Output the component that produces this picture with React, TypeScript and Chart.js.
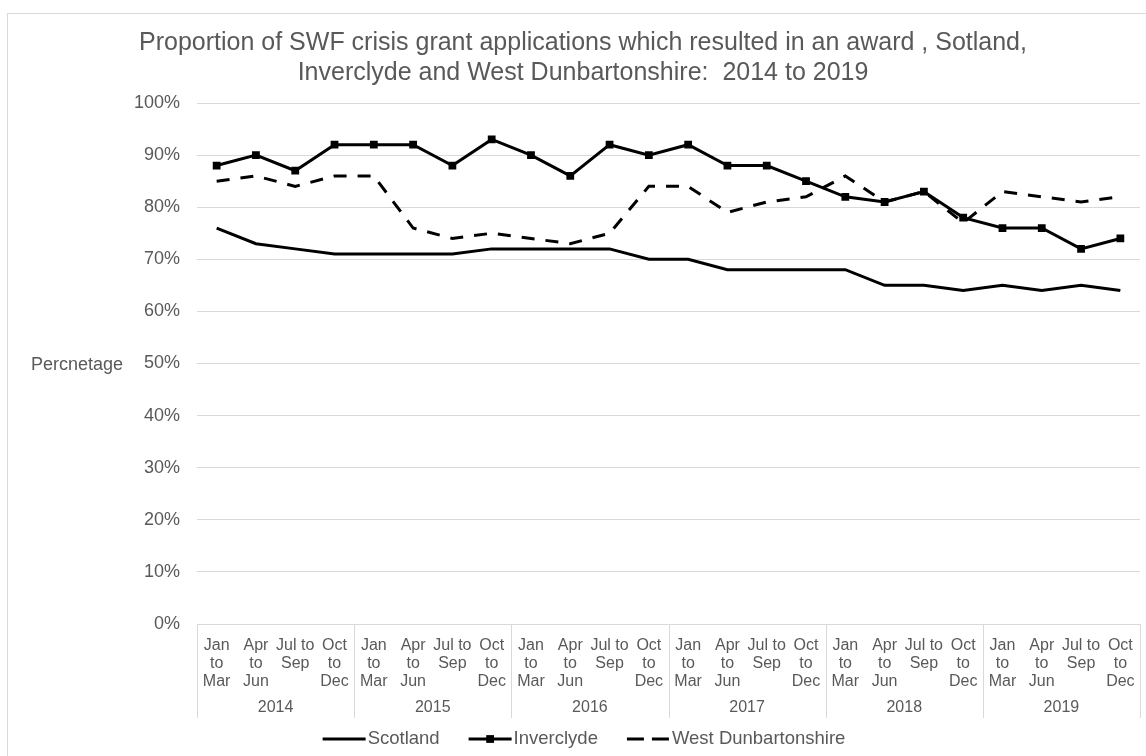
import React, { useEffect, useRef } from "react";
import { Chart, registerables } from "chart.js";

Chart.register(...registerables);

const titleLines = [
  "Proportion of SWF crisis grant applications which resulted in an award , Sotland,",
  "Inverclyde and West Dunbartonshire:  2014 to 2019",
];
const yAxisLabel = "Percnetage";
const years = ["2014", "2015", "2016", "2017", "2018", "2019"];
const quarters = [
  ["Jan", "to", "Mar"],
  ["Apr", "to", "Jun"],
  ["Jul to", "Sep"],
  ["Oct", "to", "Dec"],
];
const seriesNames = ["Scotland", "Inverclyde", "West Dunbartonshire"];
const scotland = [76, 73, 72, 71, 71, 71, 71, 72, 72, 72, 72, 70, 70, 68, 68, 68, 68, 65, 65, 64, 65, 64, 65, 64];
const inverclyde = [88, 90, 87, 92, 92, 92, 88, 93, 90, 86, 92, 90, 92, 88, 88, 85, 82, 81, 83, 78, 76, 76, 72, 74];
const westDunbartonshire = [85, 86, 84, 86, 86, 76, 74, 75, 74, 73, 75, 84, 84, 79, 81, 82, 86, 81, 83, 77, 83, 82, 81, 82];

const FONT = '"Liberation Sans", Arial, sans-serif';
const TEXT = "#595959";
const GRID = "#d9d9d9";
const W = 1146;
const H = 756;

const labels = years.flatMap(() => quarters);

const decorPlugin = {
  id: "decor",
  afterDraw(chart: any) {
    const ctx = chart.ctx;
    const area = chart.chartArea;
    const x = chart.scales.x;
    ctx.save();
    // outer border
    ctx.strokeStyle = GRID;
    ctx.lineWidth = 1;
    ctx.strokeRect(7.5, 13.5, W + 20, H + 20);

    // horizontal y-axis title
    ctx.fillStyle = TEXT;
    ctx.font = `18px ${FONT}`;
    ctx.textAlign = "left";
    ctx.textBaseline = "middle";
    ctx.fillText(yAxisLabel, 31, (area.top + area.bottom) / 2 + 2);

    // year group separators and labels
    const n = labels.length;
    const half = (x.getPixelForValue(1) - x.getPixelForValue(0)) / 2;
    const per = quarters.length;
    ctx.strokeStyle = GRID;
    ctx.lineWidth = 1;
    for (let g = 0; g <= years.length; g++) {
      const idx = Math.min(g * per, n - 1);
      const px = g * per >= n ? x.getPixelForValue(n - 1) + half : x.getPixelForValue(idx) - half;
      const xx = Math.round(px) + 0.5;
      ctx.beginPath();
      ctx.moveTo(xx, area.bottom);
      ctx.lineTo(xx, area.bottom + 94);
      ctx.stroke();
    }
    ctx.font = `16px ${FONT}`;
    ctx.textAlign = "center";
    ctx.fillStyle = TEXT;
    years.forEach((yr, g) => {
      const a = x.getPixelForValue(g * per);
      const b = x.getPixelForValue(g * per + per - 1);
      ctx.fillText(yr, (a + b) / 2, area.bottom + 84);
    });

    // legend
    ctx.font = `18.5px ${FONT}`;
    const sample = 43;
    const gapText = 2;
    const gapItem = 29;
    const widths = seriesNames.map((s) => ctx.measureText(s).width);
    const total = widths.reduce((s, w) => s + sample + gapText + w, 0) + gapItem * (seriesNames.length - 1);
    let lx = 584 - total / 2;
    const ly = 739;
    chart.data.datasets.forEach((ds: any, i: number) => {
      ctx.strokeStyle = ds.borderColor;
      ctx.lineWidth = ds.borderWidth;
      ctx.setLineDash(ds.borderDash && ds.borderDash.length ? [17, 8] : []);
      ctx.beginPath();
      ctx.moveTo(lx, ly);
      ctx.lineTo(lx + sample, ly);
      ctx.stroke();
      ctx.setLineDash([]);
      if (ds.pointRadius > 0) {
        const s = ds.pointRadius * Math.SQRT2;
        ctx.fillStyle = ds.pointBackgroundColor;
        ctx.fillRect(lx + sample / 2 - s / 2, ly - s / 2, s, s);
      }
      ctx.fillStyle = TEXT;
      ctx.textAlign = "left";
      ctx.fillText(seriesNames[i], lx + sample + gapText, ly);
      lx += sample + gapText + widths[i] + gapItem;
    });
    ctx.restore();
  },
};

export default function App() {
  const ref = useRef<HTMLCanvasElement | null>(null);
  useEffect(() => {
    if (!ref.current) return;
    const chart = new Chart(ref.current, {
      type: "line",
      data: {
        labels,
        datasets: [
          {
            label: seriesNames[0],
            data: scotland,
            borderColor: "#000000",
            borderWidth: 3,
            pointRadius: 0,
            pointHoverRadius: 0,
            tension: 0,
            fill: false,
          },
          {
            label: seriesNames[1],
            data: inverclyde,
            borderColor: "#000000",
            backgroundColor: "#000000",
            borderWidth: 3,
            pointStyle: "rect",
            pointRadius: 5.5,
            pointHoverRadius: 5.5,
            pointBackgroundColor: "#000000",
            pointBorderColor: "#000000",
            pointBorderWidth: 0,
            tension: 0,
            fill: false,
          },
          {
            label: seriesNames[2],
            data: westDunbartonshire,
            borderColor: "#000000",
            borderWidth: 3,
            borderDash: [13, 11],
            pointRadius: 0,
            pointHoverRadius: 0,
            tension: 0,
            fill: false,
          },
        ],
      } as any,
      options: {
        animation: false,
        responsive: false,
        events: [],
        layout: { padding: { left: 26, right: 6, top: 0, bottom: 36 } },
        plugins: {
          legend: { display: false },
          tooltip: { enabled: false },
          title: {
            display: true,
            text: titleLines,
            color: TEXT,
            font: { family: FONT, size: 25, weight: "normal", lineHeight: 1.2 },
            padding: { top: 28, bottom: 15 },
          },
        },
        scales: {
          x: {
            type: "category",
            offset: true,
            grid: { display: false },
            border: { display: false },
            ticks: {
              color: TEXT,
              font: { family: FONT, size: 16, lineHeight: 1.125 },
              padding: 5,
              maxRotation: 0,
              minRotation: 0,
              autoSkip: false,
            },
            afterFit(s: any) {
              s.height = 96;
            },
          },
          y: {
            min: 0,
            max: 100,
            ticks: {
              stepSize: 10,
              callback: (v: any) => v + "%",
              color: TEXT,
              font: { family: FONT, size: 18 },
              padding: 17,
            },
            grid: { color: GRID, lineWidth: 1, drawTicks: false },
            border: { display: false },
            afterFit(s: any) {
              s.width = 171;
            },
          },
        },
      } as any,
      plugins: [decorPlugin],
    });
    return () => chart.destroy();
  }, []);
  return (
    <div style={{ position: "absolute", left: 0, top: 0, width: W, height: H, background: "#fff" }}>
      <canvas ref={ref} width={W} height={H} style={{ width: W, height: H, display: "block" }} />
    </div>
  );
}
